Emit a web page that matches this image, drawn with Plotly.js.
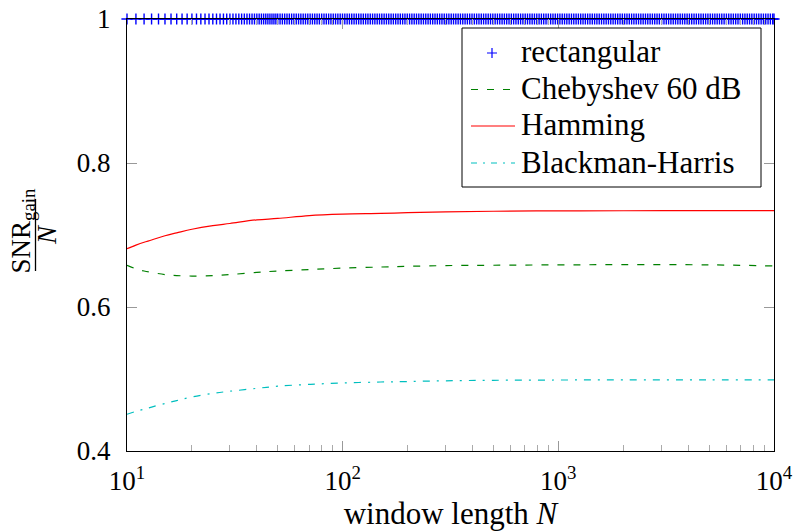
<!DOCTYPE html>
<html>
<head>
<meta charset="utf-8">
<script src="https://cdn.plot.ly/plotly-3.0.1.min.js"></script>
<style>html,body{margin:0;padding:0;background:#fff;}#chart{width:797px;height:531px;}</style>
</head>
<body>
<div id="chart"></div>
<script>
// ---- data ----
const seriesNames = ['rectangular', 'Chebyshev 60 dB', 'Hamming', 'Blackman-Harris'];
const seriesColors = ['#0000ff', '#008000', '#ff0000', '#00bfbf'];

// window lengths for the smooth curves
const windowN = [10, 11, 12, 13, 15, 17, 20, 25, 30, 40, 50, 70, 100, 150, 200, 300, 500, 1000, 2000, 5000, 10000];

const hammingGain = [0.681, 0.686, 0.690, 0.693, 0.699, 0.703, 0.708, 0.713, 0.716, 0.721, 0.723, 0.727, 0.729, 0.730, 0.731, 0.732, 0.733, 0.7335, 0.7337, 0.7338, 0.7338];
const chebyshevGain = [0.658, 0.653, 0.650, 0.648, 0.645, 0.6437, 0.643, 0.6435, 0.645, 0.648, 0.650, 0.652, 0.654, 0.6555, 0.6565, 0.6575, 0.658, 0.6585, 0.6588, 0.6585, 0.657];
const blackmanHarrisGain = [0.451, 0.455, 0.458, 0.461, 0.466, 0.470, 0.475, 0.480, 0.483, 0.487, 0.490, 0.4925, 0.4945, 0.4958, 0.4965, 0.4975, 0.4982, 0.4986, 0.4988, 0.4989, 0.4989];

// rectangular window: gain ratio is exactly 1 at every sampled N
const rectGainValue = 1;
const rectN = [];
for (let n = 10; n <= 50; n++) rectN.push(n);
let nn = 50;
while (nn < 10000) { nn = nn * 1.025; rectN.push(Math.min(nn, 10000)); }
const rectGain = rectN.map(() => rectGainValue);

const xTickVals = [10, 100, 1000, 10000];
const xTickText = ['10<sup>1</sup>', '10<sup>2</sup>', '10<sup>3</sup>', '10<sup>4</sup>'];
const yTickVals = [0.4, 0.6, 0.8, 1];
const yTickText = ['0.4', '0.6', '0.8', '1'];

// ---- chart ----
const serif = 'Liberation Serif';

const traces = [
  {
    x: rectN, y: rectGain, name: seriesNames[0], type: 'scatter', mode: 'markers',
    cliponaxis: false,
    marker: { symbol: 'cross-thin', size: 8, color: seriesColors[0], line: { color: seriesColors[0], width: 1.4 } }
  },
  {
    x: windowN, y: chebyshevGain, name: seriesNames[1], type: 'scatter', mode: 'lines',
    line: { color: seriesColors[1], width: 1.2, dash: '7px,9px', shape: 'spline' }
  },
  {
    x: windowN, y: hammingGain, name: seriesNames[2], type: 'scatter', mode: 'lines',
    line: { color: seriesColors[2], width: 1.2, shape: 'spline' }
  },
  {
    x: windowN, y: blackmanHarrisGain, name: seriesNames[3], type: 'scatter', mode: 'lines',
    line: { color: seriesColors[3], width: 1.2, dash: '7px,7px,2px,7px', shape: 'spline' }
  }
];

const L = 127, R = 774, T = 19, B = 451;
const pw = R - L, ph = B - T;
const px = v => (v - L) / pw;
const py = v => (B - v) / ph;

// legend (drawn as a boxed key)
const legBox = { x0: 462, x1: 761, y0: 28, y1: 187 };
const legRows = [53, 89.5, 126, 163];
const legLineX = [471, 515];
const legTextX = 519;

const shapes = [
  { type: 'line', xref: 'paper', yref: 'paper', x0: px(35.5), x1: px(35.5), y0: py(199), y1: py(271),
    line: { color: '#000000', width: 1.3 } },
  { type: 'rect', xref: 'paper', yref: 'paper', layer: 'above',
    x0: px(legBox.x0), x1: px(legBox.x1), y0: py(legBox.y0), y1: py(legBox.y1),
    fillcolor: '#ffffff', line: { color: '#000000', width: 1 } },
  // "+" marker sample
  { type: 'path', xref: 'paper', yref: 'paper', layer: 'above',
    path: 'M' + px(487) + ',' + py(legRows[0]) + ' L' + px(497) + ',' + py(legRows[0]) +
          ' M' + px(492) + ',' + py(legRows[0] - 5) + ' L' + px(492) + ',' + py(legRows[0] + 5),
    line: { color: seriesColors[0], width: 1.2 } },
  { type: 'line', xref: 'paper', yref: 'paper', layer: 'above',
    x0: px(legLineX[0]), x1: px(legLineX[1]), y0: py(legRows[1]), y1: py(legRows[1]),
    line: { color: seriesColors[1], width: 1.2, dash: '7px,9px' } },
  { type: 'line', xref: 'paper', yref: 'paper', layer: 'above',
    x0: px(legLineX[0]), x1: px(legLineX[1]), y0: py(legRows[2]), y1: py(legRows[2]),
    line: { color: seriesColors[2], width: 1.2 } },
  { type: 'line', xref: 'paper', yref: 'paper', layer: 'above',
    x0: px(legLineX[0]), x1: px(legLineX[1]), y0: py(legRows[3]), y1: py(legRows[3]),
    line: { color: seriesColors[3], width: 1.2, dash: '6px,6px,2px,6px' } }
];

const annotations = [
  { xref: 'paper', yref: 'paper', x: px(22.5), y: py(231), xanchor: 'center', yanchor: 'middle',
    text: 'SNR<sub>gain</sub>', textangle: -90, showarrow: false,
    font: { family: serif, size: 27, color: '#000000' } },
  { xref: 'paper', yref: 'paper', x: px(47), y: py(235), xanchor: 'center', yanchor: 'middle',
    text: '<i>N</i>', textangle: -90, showarrow: false,
    font: { family: serif, size: 27, color: '#000000' } }
];
seriesNames.forEach((name, i) => {
  annotations.push({
    xref: 'paper', yref: 'paper', x: px(legTextX), y: py(legRows[i] - 1), xanchor: 'left', yanchor: 'middle',
    text: name, showarrow: false, font: { family: serif, size: 31, color: '#000000' }
  });
});

const layout = {
  width: 797, height: 531,
  margin: { l: L, r: 797 - R, t: T, b: 531 - B, pad: 0 },
  paper_bgcolor: '#ffffff', plot_bgcolor: '#ffffff',
  font: { family: serif, color: '#000000' },
  showlegend: false,
  xaxis: {
    type: 'log', range: [1, 4],
    tickvals: xTickVals, ticktext: xTickText,
    ticks: 'inside', ticklen: 10, tickwidth: 1, tickcolor: '#999999',
    minor: { ticks: 'inside', ticklen: 6, tickwidth: 1, tickcolor: '#aaaaaa', dtick: 'D1', showgrid: false },
    showline: true, linecolor: '#000000', linewidth: 1, mirror: 'ticks',
    showgrid: false, zeroline: false,
    tickfont: { family: serif, size: 27, color: '#000000' },
    ticklabelstandoff: 6,
    title: { text: 'window length <i>N</i>', font: { family: serif, size: 31, color: '#000000' }, standoff: 2 },
    automargin: false
  },
  yaxis: {
    range: [0.4, 1],
    tickvals: yTickVals, ticktext: yTickText,
    ticks: 'inside', ticklen: 10, tickwidth: 1, tickcolor: '#999999',
    showline: true, linecolor: '#000000', linewidth: 1, mirror: 'ticks',
    showgrid: false, zeroline: false,
    tickfont: { family: serif, size: 27, color: '#000000' },
    ticklabelstandoff: 10,
    automargin: false
  },
  annotations: annotations,
  shapes: shapes
};

Plotly.newPlot('chart', traces, layout, { staticPlot: true, displayModeBar: false });
</script>
</body>
</html>
